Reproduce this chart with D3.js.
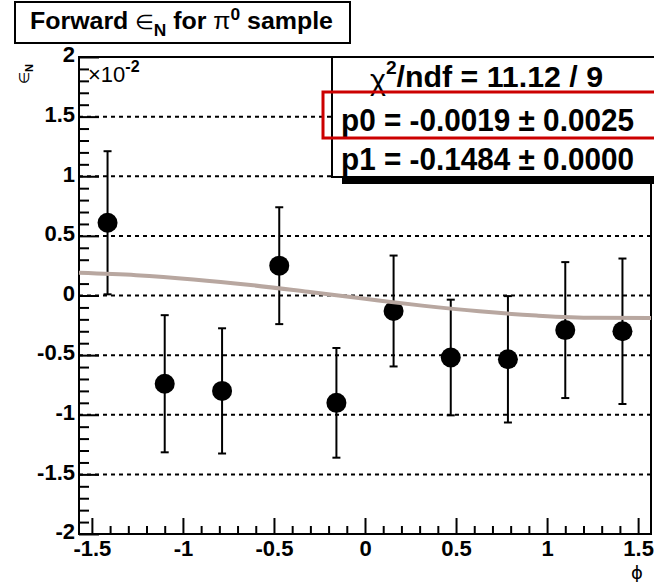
<!DOCTYPE html>
<html>
<head>
<meta charset="utf-8">
<script src="https://cdn.jsdelivr.net/npm/d3@7"></script>
<style>
  body { margin: 0; background: #fff; }
  text { font-family: "Liberation Sans", Arial, sans-serif; }
  .narrow { font-family: "Liberation Sans Narrow", "Arial Narrow", "Liberation Sans", sans-serif; }
</style>
</head>
<body>
<svg id="chart"></svg>
<script>
// bin centres in phi, values in units of 1e-2
const phiCenters = [-1.414, -1.100, -0.785, -0.471, -0.157, 0.157, 0.471, 0.785, 1.100, 1.414];
const epsN = [0.61, -0.74, -0.80, 0.25, -0.90, -0.13, -0.52, -0.535, -0.29, -0.30];
const epsErr = [0.60, 0.575, 0.525, 0.49, 0.46, 0.465, 0.485, 0.53, 0.57, 0.61];

// fit curve
const fitPhi = [-1.571, -1.257, -0.942, -0.628, -0.314, 0, 0.314, 0.628, 0.942, 1.257, 1.571];
const fitVal = [0.19, 0.17, 0.135, 0.088, 0.031, -0.028, -0.085, -0.133, -0.168, -0.187, -0.188];

const xTicks = [-1.5, -1, -0.5, 0, 0.5, 1, 1.5];
const yTicks = [-2, -1.5, -1, -0.5, 0, 0.5, 1, 1.5, 2];
const gridTicks = [-1.5, -1, -0.5, 0, 0.5, 1, 1.5];

const statLines = ['/ndf = 11.12 / 9', 'p0 = -0.0019 \u00b1 0.0025', 'p1 = -0.1484 \u00b1 0.0000'];

const width = 654, height = 582;
const frame = { left: 79, right: 651, top: 57, bottom: 534 };

const svg = d3.select('#chart').attr('width', width).attr('height', height);

const x = d3.scaleLinear().domain([-Math.PI / 2, Math.PI / 2]).range([frame.left, frame.right]);
const y = d3.scaleLinear().domain([-2, 2]).range([frame.bottom, frame.top]);

// dashed grid
svg.append('g')
  .selectAll('line')
  .data(gridTicks)
  .join('line')
  .attr('x1', frame.left).attr('x2', frame.right)
  .attr('y1', d => y(d)).attr('y2', d => y(d))
  .attr('stroke', '#000').attr('stroke-width', 2)
  .attr('stroke-dasharray', '4,4');

// minor ticks
const minorX = d3.range(-15, 16).map(d => d / 10).filter(d => !xTicks.includes(d));
const minorY = d3.range(-20, 21).map(d => d / 10).filter(d => !yTicks.some(t => Math.abs(t - d) < 1e-9));

const styleAxis = g => {
  g.select('.domain').remove();
  g.selectAll('line').attr('stroke', '#000').attr('stroke-width', 2);
  g.selectAll('text')
    .attr('class', 'narrow')
    .attr('font-size', 22).attr('font-weight', 'bold')
    .attr('fill', '#000')
    .style('font-family', null);
};

svg.append('g')
  .attr('transform', `translate(0,${frame.bottom})`)
  .call(d3.axisBottom(x).tickValues(minorX).tickSize(-8).tickFormat(''))
  .call(styleAxis);
svg.append('g')
  .attr('transform', `translate(0,${frame.bottom})`)
  .call(d3.axisBottom(x).tickValues(xTicks).tickSize(-16).tickPadding(6).tickFormat(d => String(d)))
  .call(styleAxis);

svg.append('g')
  .attr('transform', `translate(${frame.left},0)`)
  .call(d3.axisLeft(y).tickValues(minorY).tickSize(-10).tickFormat(''))
  .call(styleAxis);
svg.append('g')
  .attr('transform', `translate(${frame.left},0)`)
  .call(d3.axisLeft(y).tickValues(yTicks).tickSize(-20).tickPadding(4).tickFormat(d => String(d)))
  .call(styleAxis)
  .call(g => g.selectAll('text').attr('dy', '0.22em'));

// frame
svg.append('rect')
  .attr('x', frame.left).attr('y', frame.top)
  .attr('width', frame.right - frame.left).attr('height', frame.bottom - frame.top)
  .attr('fill', 'none').attr('stroke', '#000').attr('stroke-width', 2);

// x10^-2 multiplier
const mult = svg.append('text').attr('class', 'narrow').attr('x', 88).attr('y', 82).attr('font-size', 22);
mult.append('tspan').text('\u00d710');
mult.append('tspan').attr('dy', -10).attr('font-size', 16).attr('font-weight', 'bold').text('-2');

// error bars and markers
const pts = phiCenters.map((p, i) => ({ p, v: epsN[i], e: epsErr[i] }));
const bars = svg.append('g').attr('stroke', '#000').attr('stroke-width', 2);
bars.selectAll('.bar')
  .data(pts).join('line')
  .attr('x1', d => x(d.p)).attr('x2', d => x(d.p))
  .attr('y1', d => y(d.v + d.e)).attr('y2', d => y(d.v - d.e));
bars.selectAll('.capT')
  .data(pts).join('line').attr('class', 'capT')
  .attr('x1', d => x(d.p) - 4).attr('x2', d => x(d.p) + 4)
  .attr('y1', d => y(d.v + d.e)).attr('y2', d => y(d.v + d.e));
bars.selectAll('.capB')
  .data(pts).join('line').attr('class', 'capB')
  .attr('x1', d => x(d.p) - 4).attr('x2', d => x(d.p) + 4)
  .attr('y1', d => y(d.v - d.e)).attr('y2', d => y(d.v - d.e));

svg.append('g')
  .selectAll('circle')
  .data(pts).join('circle')
  .attr('cx', d => x(d.p)).attr('cy', d => y(d.v))
  .attr('r', 10).attr('fill', '#000');

// fit function
const line = d3.line().x(d => x(d[0])).y(d => y(d[1])).curve(d3.curveMonotoneX);
svg.append('path')
  .datum(fitPhi.map((p, i) => [p, fitVal[i]]))
  .attr('d', line)
  .attr('fill', 'none').attr('stroke', '#b8a7a0').attr('stroke-width', 4);

// stats box
svg.append('rect').attr('x', 342).attr('y', 177).attr('width', 320).attr('height', 7).attr('fill', '#000');
svg.append('rect')
  .attr('x', 332).attr('y', frame.top).attr('width', 330).attr('height', 120)
  .attr('fill', '#fff').attr('stroke', '#000').attr('stroke-width', 2);

const statBase = [87, 131, 170];
const chi = svg.append('text').attr('x', 370).attr('y', statBase[0])
  .attr('font-size', 30).attr('font-weight', 'bold')
  .attr('textLength', 233).attr('lengthAdjust', 'spacingAndGlyphs');
chi.append('tspan').attr('font-weight', 'normal').attr('dy', 3).text('\u03c7');
chi.append('tspan').attr('font-size', 19).attr('dy', -16).text('2');
chi.append('tspan').attr('dy', 13).text(statLines[0]);

statLines.slice(1).forEach((s, i) => {
  svg.append('text')
    .attr('x', 341).attr('y', statBase[i + 1])
    .attr('font-size', 31).attr('font-weight', 'bold')
    .attr('textLength', 293).attr('lengthAdjust', 'spacingAndGlyphs')
    .text(s);
});

svg.append('rect')
  .attr('x', 323).attr('y', 92).attr('width', 340).attr('height', 46)
  .attr('fill', 'none').attr('stroke', '#cc0000').attr('stroke-width', 3);

// title box
svg.append('rect')
  .attr('x', 15).attr('y', 2).attr('width', 335).attr('height', 41)
  .attr('fill', '#fff').attr('stroke', '#000').attr('stroke-width', 2);
const title = svg.append('text').attr('x', 30).attr('y', 29)
  .attr('font-size', 23).attr('font-weight', 'bold')
  .attr('textLength', 303).attr('lengthAdjust', 'spacingAndGlyphs');
title.append('tspan').text('Forward ');
title.append('tspan').attr('font-weight', 'normal').attr('font-size', 20).text('\u2208');
title.append('tspan').attr('font-size', 16).attr('dy', 7).text('N');
title.append('tspan').attr('dy', -7).text(' for ');
title.append('tspan').attr('font-weight', 'normal').text('\u03c0');
title.append('tspan').attr('font-size', 16).attr('dy', -9).text('0');
title.append('tspan').attr('dy', 9).text(' sample');

// axis titles
const yl = svg.append('text')
  .attr('transform', 'translate(29,84) rotate(-90)')
  .attr('font-size', 14);
yl.append('tspan').text('\u2208');
yl.append('tspan').attr('font-size', 11).attr('font-weight', 'bold').attr('dy', 4).text('N');

svg.append('text')
  .attr('x', 637).attr('y', 579)
  .attr('text-anchor', 'middle').attr('font-size', 18)
  .style('font-family', '"DejaVu Sans", sans-serif')
  .text('\u03d5');
</script>
</body>
</html>
